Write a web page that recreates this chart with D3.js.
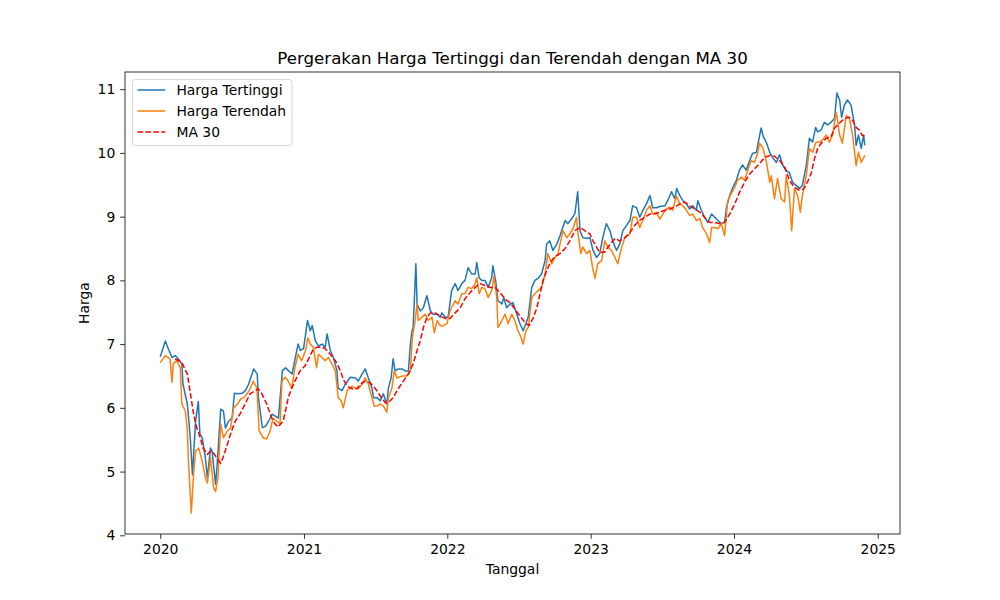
<!DOCTYPE html>
<html>
<head>
<meta charset="utf-8">
<script src="https://cdn.jsdelivr.net/npm/d3@7"></script>
<style>
  html, body { margin: 0; padding: 0; background: #fff; }
  svg { display: block; font-family: "DejaVu Sans", sans-serif; }
</style>
</head>
<body>
<svg id="chart" width="1000" height="600"></svg>
<script>
// ---- Data ----
const highDates = ["2020-01-01","2020-01-14","2020-01-22","2020-01-31","2020-02-08","2020-02-16","2020-02-25","2020-02-28","2020-03-10","2020-03-14","2020-03-18","2020-03-23","2020-03-31","2020-04-07","2020-04-11","2020-04-17","2020-04-25","2020-04-30","2020-05-08","2020-05-12","2020-05-21","2020-05-25","2020-06-03","2020-06-10","2020-06-15","2020-06-23","2020-07-02","2020-07-08","2020-07-18","2020-07-28","2020-08-05","2020-08-13","2020-08-26","2020-09-04","2020-09-07","2020-09-17","2020-09-25","2020-10-03","2020-10-12","2020-10-20","2020-10-28","2020-11-07","2020-11-15","2020-11-23","2020-12-02","2020-12-10","2020-12-17","2020-12-23","2020-12-31",
"2021-01-10","2021-01-17","2021-01-22","2021-01-30","2021-02-07","2021-02-16","2021-02-24","2021-03-01","2021-03-09","2021-03-17","2021-03-26","2021-03-29","2021-04-08","2021-04-16","2021-04-29","2021-05-12","2021-05-19","2021-05-29","2021-06-06","2021-06-14","2021-06-23","2021-06-27","2021-07-06","2021-07-14","2021-07-22","2021-07-31","2021-08-04","2021-08-11","2021-08-16","2021-08-21","2021-08-29","2021-09-08","2021-09-16","2021-09-24","2021-09-29","2021-10-03","2021-10-06","2021-10-13","2021-10-16","2021-10-24","2021-11-01","2021-11-10","2021-11-19","2021-11-26","2021-12-06","2021-12-14","2021-12-18","2021-12-27",
"2022-01-03","2022-01-12","2022-01-21","2022-01-28","2022-02-07","2022-02-15","2022-02-23","2022-03-04","2022-03-13","2022-03-17","2022-03-23","2022-03-30","2022-04-07","2022-04-15","2022-04-24","2022-04-27","2022-05-04","2022-05-10","2022-05-20","2022-05-25","2022-06-01","2022-06-10","2022-06-17","2022-06-27","2022-07-05","2022-07-13","2022-07-20","2022-07-26","2022-08-04","2022-08-12","2022-08-20","2022-08-29","2022-09-07","2022-09-11","2022-09-19","2022-09-27","2022-10-07","2022-10-15","2022-10-28","2022-11-04","2022-11-14","2022-11-22","2022-11-29","2022-12-05","2022-12-12","2022-12-22","2022-12-30",
"2023-01-07","2023-01-16","2023-01-24","2023-02-01","2023-02-10","2023-02-19","2023-02-26","2023-03-08","2023-03-16","2023-03-24","2023-04-02","2023-04-11","2023-04-18","2023-04-28","2023-05-06","2023-05-14","2023-05-23","2023-06-01","2023-06-08","2023-06-18","2023-06-26","2023-07-09","2023-07-16","2023-07-26","2023-08-03","2023-08-08","2023-08-16","2023-08-24","2023-09-02","2023-09-10","2023-09-18","2023-09-27","2023-10-01","2023-10-10","2023-10-18","2023-10-26","2023-11-05","2023-11-13","2023-11-21","2023-11-30","2023-12-08","2023-12-13","2023-12-21","2023-12-29",
"2024-01-07","2024-01-15","2024-01-23","2024-02-01","2024-02-10","2024-02-17","2024-02-27","2024-03-04","2024-03-10","2024-03-16","2024-03-23","2024-04-01","2024-04-08","2024-04-18","2024-04-26","2024-05-04","2024-05-13","2024-05-21","2024-05-29","2024-06-07","2024-06-16","2024-06-23","2024-07-03","2024-07-11","2024-07-19","2024-07-27","2024-08-01","2024-08-10","2024-08-18","2024-08-26","2024-09-04","2024-09-13","2024-09-19","2024-09-26","2024-10-01","2024-10-08","2024-10-16","2024-10-25","2024-11-03","2024-11-07","2024-11-13","2024-11-20","2024-11-26","2024-11-29"];
const highValues = [6.80,7.05,6.92,6.79,6.82,6.77,6.69,6.37,6.06,5.79,5.48,4.95,5.79,6.10,5.59,5.53,5.21,4.90,5.37,5.32,4.80,5.11,5.98,5.95,5.68,5.79,5.84,6.23,6.22,6.23,6.27,6.37,6.61,6.53,6.16,5.69,5.71,5.79,5.90,5.87,5.84,6.58,6.63,6.58,6.53,6.79,7.00,6.90,6.93,
7.37,7.21,7.29,7.05,6.97,7.00,6.95,7.16,6.90,6.79,6.58,6.31,6.27,6.37,6.48,6.47,6.42,6.53,6.61,6.47,6.31,6.16,6.16,6.11,6.22,6.06,6.31,6.47,6.77,6.58,6.61,6.61,6.58,6.58,7.00,7.21,7.26,8.26,7.63,7.52,7.57,7.76,7.52,7.47,7.47,7.42,7.49,7.42,
7.42,7.84,7.95,7.84,7.95,8.00,8.20,8.10,8.10,8.28,8.04,8.00,8.00,7.89,8.04,8.23,8.00,7.68,7.63,7.73,7.57,7.63,7.65,7.47,7.32,7.21,7.32,7.42,7.89,8.00,8.03,8.10,8.31,8.57,8.62,8.47,8.57,8.70,8.94,8.89,8.97,9.05,9.39,8.78,8.67,8.66,8.67,
8.47,8.36,8.42,8.67,8.89,8.78,8.62,8.47,8.57,8.78,8.86,8.94,9.17,9.14,8.99,9.10,9.20,9.33,9.14,9.14,9.16,9.17,9.25,9.39,9.28,9.44,9.33,9.25,9.20,9.12,9.17,9.10,9.25,9.10,8.99,8.91,9.04,8.99,8.94,8.89,8.91,9.15,9.33,9.46,
9.57,9.73,9.81,9.73,9.88,9.99,10.01,10.20,10.39,10.25,10.17,10.01,9.93,9.85,9.97,9.81,9.72,9.69,9.54,9.49,9.44,9.49,9.80,10.23,10.17,10.40,10.33,10.36,10.48,10.44,10.48,10.54,10.94,10.83,10.56,10.75,10.83,10.75,10.44,10.12,10.28,10.07,10.28,10.12];

const lowDates = ["2020-01-01","2020-01-14","2020-01-26","2020-01-31","2020-02-03","2020-02-12","2020-02-21","2020-02-25","2020-03-05","2020-03-10","2020-03-13","2020-03-20","2020-03-26","2020-03-31","2020-04-08","2020-04-17","2020-04-25","2020-04-30","2020-05-08","2020-05-16","2020-05-21","2020-05-27","2020-06-03","2020-06-10","2020-06-20","2020-06-28","2020-07-06","2020-07-16","2020-07-24","2020-07-31","2020-08-09","2020-08-17","2020-08-25","2020-09-03","2020-09-09","2020-09-19","2020-09-28","2020-10-07","2020-10-14","2020-10-24","2020-11-01","2020-11-06","2020-11-14","2020-11-22","2020-12-01","2020-12-09","2020-12-17","2020-12-26",
"2021-01-05","2021-01-11","2021-01-17","2021-01-25","2021-02-02","2021-02-07","2021-02-16","2021-02-24","2021-03-04","2021-03-13","2021-03-22","2021-03-29","2021-04-06","2021-04-11","2021-04-21","2021-05-03","2021-05-12","2021-05-19","2021-05-29","2021-06-06","2021-06-14","2021-06-23","2021-06-29","2021-07-06","2021-07-14","2021-07-22","2021-07-31","2021-08-04","2021-08-13","2021-08-19","2021-08-26","2021-09-08","2021-09-20","2021-09-29","2021-10-04","2021-10-11","2021-10-16","2021-10-19","2021-10-28","2021-11-06","2021-11-13","2021-11-23","2021-11-29","2021-12-06","2021-12-14","2021-12-22","2021-12-31",
"2022-01-08","2022-01-21","2022-01-28","2022-02-07","2022-02-15","2022-02-23","2022-03-04","2022-03-13","2022-03-17","2022-03-23","2022-03-30","2022-04-07","2022-04-15","2022-04-24","2022-04-30","2022-05-07","2022-05-10","2022-05-20","2022-05-28","2022-06-05","2022-06-14","2022-06-22","2022-06-30","2022-07-08","2022-07-13","2022-07-20","2022-07-26","2022-08-04","2022-08-12","2022-08-20","2022-08-29","2022-09-07","2022-09-14","2022-09-24","2022-10-02","2022-10-10","2022-10-15","2022-10-23","2022-11-01","2022-11-09","2022-11-17","2022-11-26","2022-11-29","2022-12-07","2022-12-12","2022-12-22","2022-12-30",
"2023-01-06","2023-01-12","2023-01-19","2023-01-29","2023-02-06","2023-02-14","2023-02-23","2023-03-04","2023-03-11","2023-03-21","2023-03-29","2023-04-11","2023-04-18","2023-04-28","2023-05-06","2023-05-14","2023-05-23","2023-06-01","2023-06-08","2023-06-18","2023-06-26","2023-07-04","2023-07-13","2023-07-21","2023-07-29","2023-08-07","2023-08-16","2023-08-24","2023-09-02","2023-09-10","2023-09-18","2023-09-27","2023-10-06","2023-10-13","2023-10-23","2023-10-31","2023-11-05","2023-11-13","2023-11-21","2023-11-30","2023-12-08","2023-12-16","2023-12-25",
"2024-01-03","2024-01-10","2024-01-20","2024-01-28","2024-02-05","2024-02-14","2024-02-22","2024-03-01","2024-03-06","2024-03-14","2024-03-23","2024-04-01","2024-04-05","2024-04-13","2024-04-21","2024-04-30","2024-05-09","2024-05-13","2024-05-21","2024-05-27","2024-06-03","2024-06-11","2024-06-18","2024-06-23","2024-07-03","2024-07-11","2024-07-19","2024-07-28","2024-08-06","2024-08-13","2024-08-23","2024-08-31","2024-09-08","2024-09-17","2024-09-20","2024-09-26","2024-10-03","2024-10-13","2024-10-21","2024-10-29","2024-11-07","2024-11-13","2024-11-20","2024-11-29"];
const lowValues = [6.71,6.82,6.77,6.40,6.69,6.74,6.63,6.06,5.95,5.64,5.16,4.35,4.96,5.32,5.37,5.16,4.90,4.82,5.22,4.74,4.69,4.90,5.75,5.53,5.64,5.68,6.00,6.06,6.14,6.16,6.22,6.30,6.42,6.31,5.64,5.53,5.51,5.64,5.84,5.79,5.75,6.42,6.48,6.42,6.31,6.63,6.84,6.74,
6.90,7.10,7.00,6.95,6.63,6.84,6.79,6.74,6.79,6.69,6.58,6.16,6.11,6.00,6.27,6.34,6.31,6.30,6.37,6.47,6.37,6.16,6.03,6.03,6.06,6.03,5.93,6.16,6.31,6.58,6.47,6.50,6.50,6.58,7.10,7.37,7.63,7.37,7.42,7.47,7.37,7.42,7.18,7.37,7.29,7.29,7.32,
7.52,7.68,7.63,7.79,7.79,7.89,7.87,7.95,8.04,7.79,7.89,7.87,7.73,7.84,8.07,7.73,7.26,7.37,7.47,7.32,7.47,7.37,7.21,7.10,7.00,7.21,7.26,7.73,7.79,7.84,7.89,8.10,8.42,8.26,8.36,8.42,8.57,8.78,8.67,8.73,8.81,8.99,8.78,8.42,8.52,8.42,8.47,
8.20,8.03,8.26,8.31,8.62,8.52,8.47,8.36,8.26,8.52,8.67,8.73,8.99,8.99,8.83,8.94,9.10,9.17,9.04,9.07,8.96,9.04,9.12,9.15,9.10,9.33,9.20,9.17,9.10,9.02,9.04,8.94,8.97,8.83,8.73,8.59,8.83,8.83,8.81,8.89,8.70,9.25,9.36,
9.46,9.57,9.62,9.57,9.73,9.88,9.85,9.99,10.15,10.09,9.88,9.54,9.64,9.28,9.60,9.28,9.23,9.64,9.33,8.78,9.44,9.33,9.07,9.33,9.64,10.07,10.01,10.17,10.17,10.20,10.28,10.17,10.28,10.64,10.54,10.28,10.15,10.59,10.54,10.28,9.80,10.01,9.85,9.96];

const maDates = ["2020-02-08","2020-02-25","2020-03-10","2020-03-18","2020-03-26","2020-04-03","2020-04-12","2020-04-19","2020-04-30","2020-05-08","2020-05-16","2020-05-25","2020-06-03","2020-06-10","2020-06-20","2020-06-28","2020-07-10","2020-07-22","2020-08-04","2020-08-17","2020-08-30","2020-09-06","2020-09-16","2020-09-28","2020-10-11","2020-10-19","2020-10-27","2020-11-09","2020-11-16","2020-11-22","2020-12-01","2020-12-09","2020-12-22",
"2021-01-04","2021-01-17","2021-01-25","2021-02-03","2021-02-16","2021-02-24","2021-03-09","2021-03-22","2021-04-04","2021-04-11","2021-04-21","2021-05-03","2021-05-16","2021-05-24","2021-06-06","2021-06-19","2021-07-02","2021-07-14","2021-07-27","2021-08-04","2021-08-16","2021-08-29","2021-09-11","2021-09-24","2021-10-06","2021-10-16","2021-10-24","2021-11-01","2021-11-10","2021-11-19","2021-12-01","2021-12-14","2021-12-27",
"2022-01-08","2022-01-21","2022-02-03","2022-02-15","2022-02-28","2022-03-13","2022-03-25","2022-04-07","2022-04-20","2022-05-03","2022-05-15","2022-05-28","2022-06-10","2022-06-22","2022-07-05","2022-07-18","2022-07-28","2022-08-07","2022-08-17","2022-08-25","2022-09-02","2022-09-11","2022-09-19","2022-09-27","2022-10-07","2022-10-15","2022-10-28","2022-11-09","2022-11-22","2022-12-05","2022-12-17","2022-12-30",
"2023-01-07","2023-01-16","2023-01-24","2023-02-06","2023-02-14","2023-02-23","2023-03-04","2023-03-16","2023-03-29","2023-04-11","2023-04-23","2023-05-06","2023-05-19","2023-06-01","2023-06-13","2023-06-26","2023-07-09","2023-07-21","2023-08-03","2023-08-16","2023-08-29","2023-09-10","2023-09-23","2023-10-06","2023-10-18","2023-10-31","2023-11-13","2023-11-26","2023-12-08","2023-12-21",
"2024-01-03","2024-01-15","2024-01-28","2024-02-10","2024-02-22","2024-03-06","2024-03-19","2024-04-01","2024-04-13","2024-04-26","2024-05-09","2024-05-21","2024-06-03","2024-06-16","2024-06-27","2024-07-06","2024-07-16","2024-07-24","2024-08-01","2024-08-10","2024-08-23","2024-09-04","2024-09-13","2024-09-26","2024-10-08","2024-10-21","2024-10-29","2024-11-07","2024-11-15","2024-11-22","2024-11-29"];
const maValues = [6.77,6.71,6.53,6.22,5.90,5.69,5.53,5.37,5.27,5.32,5.29,5.20,5.13,5.24,5.43,5.59,5.79,5.90,6.06,6.22,6.27,6.30,6.22,6.06,5.84,5.75,5.70,5.79,5.98,6.16,6.31,6.42,6.58,
6.66,6.82,6.92,6.95,6.95,6.93,6.84,6.74,6.58,6.45,6.34,6.30,6.30,6.37,6.42,6.39,6.30,6.19,6.08,6.08,6.16,6.30,6.42,6.53,6.69,6.90,7.05,7.26,7.42,7.49,7.49,7.44,7.40,
7.40,7.49,7.57,7.71,7.81,7.89,7.95,7.92,7.89,7.89,7.81,7.71,7.65,7.55,7.44,7.34,7.29,7.40,7.57,7.79,8.00,8.15,8.26,8.34,8.39,8.42,8.50,8.62,8.78,8.83,8.78,8.73,
8.62,8.52,8.44,8.44,8.52,8.59,8.66,8.62,8.67,8.75,8.86,8.94,8.99,9.04,9.04,9.07,9.10,9.12,9.15,9.20,9.23,9.17,9.12,9.07,8.99,8.91,8.91,8.89,8.91,9.04,
9.20,9.38,9.54,9.67,9.75,9.83,9.93,9.96,9.95,9.88,9.78,9.57,9.46,9.41,9.44,9.54,9.69,9.91,10.07,10.15,10.23,10.25,10.39,10.47,10.54,10.56,10.51,10.40,10.36,10.28,10.26];

const yTicks = [4, 5, 6, 7, 8, 9, 10, 11];
const xTickYears = [2020, 2021, 2022, 2023, 2024, 2025];
const seriesLabels = ["Harga Tertinggi", "Harga Terendah", "MA 30"];
const titleText = "Pergerakan Harga Tertinggi dan Terendah dengan MA 30";
const xLabelText = "Tanggal";
const yLabelText = "Harga";

// ---- Layout ----
const W = 1000, H = 600;
const L = 125, R = 900, T = 72, B = 534;
const fs = 13.9;
const parse = d3.utcParse("%Y-%m-%d");

const high = highDates.map((d, i) => ({ t: parse(d), v: highValues[i] }));
const low = lowDates.map((d, i) => ({ t: parse(d), v: lowValues[i] }));
const ma = maDates.map((d, i) => ({ t: parse(d), v: maValues[i] }));

const all = high.concat(low, ma);
const tExt = d3.extent(all, d => +d.t);
const vExt = d3.extent(all, d => d.v);
const tPad = (tExt[1] - tExt[0]) * 0.05;
const vPad = (vExt[1] - vExt[0]) * 0.05;

const x = d3.scaleUtc().domain([new Date(tExt[0] - tPad), new Date(tExt[1] + tPad)]).range([L, R]);
const y = d3.scaleLinear().domain([vExt[0] - vPad, vExt[1] + vPad]).range([B, T]);

const svg = d3.select("#chart");
svg.append("rect").attr("width", W).attr("height", H).attr("fill", "#fff");

const line = d3.line().x(d => x(d.t)).y(d => y(d.v));

const plot = svg.append("g");
plot.append("clipPath").attr("id", "clip").append("rect")
  .attr("x", L).attr("y", T).attr("width", R - L).attr("height", B - T);
const lines = plot.append("g").attr("clip-path", "url(#clip)");

lines.append("path").datum(high).attr("d", line)
  .attr("fill", "none").attr("stroke", "#1f77b4").attr("stroke-width", 1.5)
  .attr("stroke-linejoin", "round").attr("stroke-linecap", "butt");
lines.append("path").datum(low).attr("d", line)
  .attr("fill", "none").attr("stroke", "#ff7f0e").attr("stroke-width", 1.5)
  .attr("stroke-linejoin", "round").attr("stroke-linecap", "butt");
lines.append("path").datum(ma).attr("d", line)
  .attr("fill", "none").attr("stroke", "#ff0000").attr("stroke-width", 1.5)
  .attr("stroke-dasharray", "5.55,2.4");

// Axes
const xAxis = d3.axisBottom(x)
  .tickValues(xTickYears.map(yy => new Date(Date.UTC(yy, 0, 1))))
  .tickFormat(d3.utcFormat("%Y"))
  .tickSize(4.86).tickPadding(4.86);
const yAxis = d3.axisLeft(y).tickValues(yTicks).tickFormat(d3.format("d"))
  .tickSize(4.86).tickPadding(4.86);

const gx = svg.append("g").attr("transform", `translate(0,${B})`).call(xAxis);
const gy = svg.append("g").attr("transform", `translate(${L},0)`).call(yAxis);
[gx, gy].forEach(g => {
  g.select(".domain").remove();
  g.selectAll(".tick line").attr("stroke", "#000").attr("stroke-width", 0.8);
  g.selectAll(".tick text").attr("fill", "#000").style("font-size", fs + "px")
    .style("font-family", "DejaVu Sans, sans-serif");
});

// Frame
svg.append("rect").attr("x", L).attr("y", T).attr("width", R - L).attr("height", B - T)
  .attr("fill", "none").attr("stroke", "#000").attr("stroke-width", 0.8);

// Title and labels
svg.append("text").attr("x", (L + R) / 2).attr("y", 64).attr("text-anchor", "middle")
  .style("font-size", "16.67px").text(titleText);
svg.append("text").attr("x", (L + R) / 2).attr("y", 574).attr("text-anchor", "middle")
  .style("font-size", fs + "px").text(xLabelText);
svg.append("text").attr("transform", `translate(89,${(T + B) / 2}) rotate(-90)`)
  .attr("text-anchor", "middle").style("font-size", fs + "px").text(yLabelText);

// Legend
const lg = svg.append("g");
lg.append("rect").attr("x", 132.5).attr("y", 79.5).attr("width", 159.5).attr("height", 66)
  .attr("rx", 3).attr("fill", "#fff").attr("fill-opacity", 0.8)
  .attr("stroke", "#cccccc").attr("stroke-width", 0.8);
const legendItems = [
  { label: seriesLabels[0], color: "#1f77b4", dash: null },
  { label: seriesLabels[1], color: "#ff7f0e", dash: null },
  { label: seriesLabels[2], color: "#ff0000", dash: "5.55,2.4" }
];
legendItems.forEach((it, i) => {
  const cy = 90 + i * 21;
  const ln = lg.append("line").attr("x1", 137.5).attr("x2", 165.3).attr("y1", cy).attr("y2", cy)
    .attr("stroke", it.color).attr("stroke-width", 1.5);
  if (it.dash) ln.attr("stroke-dasharray", it.dash);
  lg.append("text").attr("x", 176.4).attr("y", cy + 5).style("font-size", fs + "px").text(it.label);
});
</script>
</body>
</html>
